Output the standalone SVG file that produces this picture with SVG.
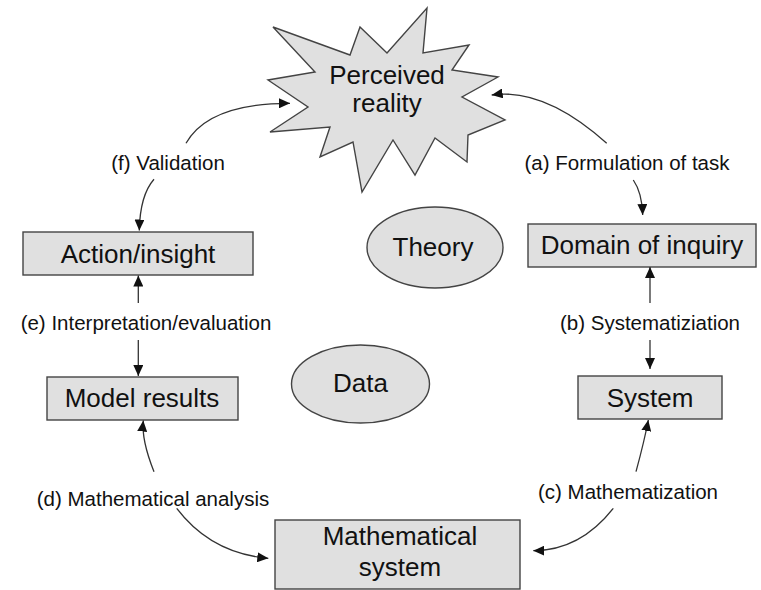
<svg xmlns="http://www.w3.org/2000/svg" width="761" height="590" viewBox="0 0 761 590">
<style>
.shape{fill:#e0e0e0;stroke:#444;stroke-width:1.4}
.big{font-family:"Liberation Sans",Arial,sans-serif;font-size:26px;fill:#111;text-anchor:middle}
.lbl{font-family:"Liberation Sans",Arial,sans-serif;font-size:20.5px;fill:#111;text-anchor:middle}
.edge{fill:none;stroke:#333;stroke-width:1.3;marker-end:url(#ah)}
</style>
<defs>
<marker id="ah" markerUnits="userSpaceOnUse" markerWidth="12" markerHeight="10" refX="11" refY="5" orient="auto">
<path d="M0,0 L11,5 L0,10 z" fill="#111"/>
</marker>
</defs>
<rect width="761" height="590" fill="#fff"/>
<g id="perceived-reality">
<polygon class="shape" points="273,27 350,55 360,27 387,53 427,8 423,53 469,45 452,70 498,77 462,97 505,120 468,135 467,162 435,138 415,175 393,140 362,192 353,142 320,157 330,127 270,132 308,107 268,80 315,72"/>
<text class="big" x="387" y="84">Perceived</text>
<text class="big" x="387" y="112">reality</text>
</g>
<g id="theory">
<ellipse class="shape" cx="435" cy="247.5" rx="68" ry="40.5"/>
<text class="big" x="433" y="256">Theory</text>
</g>
<g id="data">
<ellipse class="shape" cx="360.5" cy="384" rx="69" ry="39"/>
<text class="big" x="360.5" y="392">Data</text>
</g>
<g id="action-insight">
<rect class="shape" x="23" y="232" width="230" height="43"/>
<text class="big" x="138" y="263">Action/insight</text>
</g>
<g id="domain-of-inquiry">
<rect class="shape" x="528" y="224" width="228" height="43"/>
<text class="big" x="642" y="254">Domain of inquiry</text>
</g>
<g id="system">
<rect class="shape" x="578" y="376" width="144" height="43"/>
<text class="big" x="650" y="407">System</text>
</g>
<g id="model-results">
<rect class="shape" x="47" y="377" width="191" height="43"/>
<text class="big" x="142" y="407">Model results</text>
</g>
<g id="mathematical-system">
<rect class="shape" x="275" y="520" width="245" height="69"/>
<text class="big" x="400" y="545">Mathematical</text>
<text class="big" x="400" y="576">system</text>
</g>
<g id="connectors">
<path class="edge" d="M186,143.3 Q208.6,103.3 290,103.3"/>
<path class="edge" d="M154,179.3 Q140,195.3 139.3,230.5"/>
<path class="edge" d="M606.7,143.3 Q544.2,87.4 491.7,95"/>
<path class="edge" d="M633.3,180 Q642,192.5 642.7,215"/>
<path class="edge" d="M650,303 L650,267"/>
<path class="edge" d="M650,340 L650,369"/>
<path class="edge" d="M138.3,303 L138.3,275.5"/>
<path class="edge" d="M138.3,340 L138.3,376"/>
<path class="edge" d="M154,471.7 Q141.3,439.9 143.3,420.5"/>
<path class="edge" d="M176.7,508.3 Q210.9,553.3 268.3,558.3"/>
<path class="edge" d="M636,471.7 Q644.4,440.7 648.3,420"/>
<path class="edge" d="M613.3,508.3 Q580.1,550.5 533.3,550.7"/>
<text class="lbl" x="168" y="170">(f) Validation</text>
<text class="lbl" x="627" y="170">(a) Formulation of task</text>
<text class="lbl" x="650" y="330">(b) Systematiziation</text>
<text class="lbl" x="146" y="330">(e) Interpretation/evaluation</text>
<text class="lbl" x="153" y="506">(d) Mathematical analysis</text>
<text class="lbl" x="628" y="499">(c) Mathematization</text>
</g>
</svg>
